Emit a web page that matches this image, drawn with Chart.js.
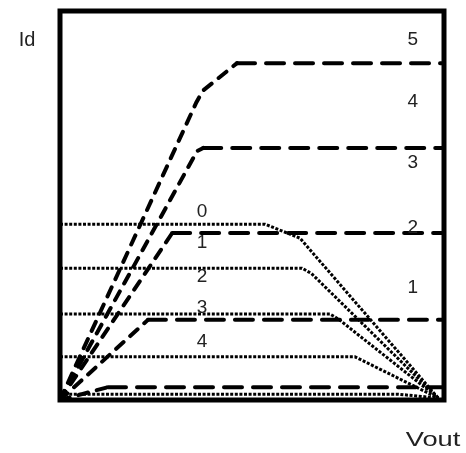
<!DOCTYPE html>
<html>
<head>
<meta charset="utf-8">
<script src="https://cdn.jsdelivr.net/npm/chart.js@4/dist/chart.umd.min.js"></script>
<style>
  html, body { margin: 0; padding: 0; background: #fff; }
  #wrap { width: 466px; height: 453px; }
</style>
</head>
<body>
<div id="wrap"><canvas id="c" width="466" height="453"></canvas></div>
<script>
// Output characteristics: dashed curves rise from the origin and saturate,
// dotted curves stay flat and then fall to the right-hand corner.
const n1X = [0, 1.25, 10];
const n1Y = [0, 0.33, 0.33];
const n2X = [0, 2.29, 10];
const n2Y = [0, 2.06, 2.06];
const n3X = [0, 2.92, 10];
const n3Y = [0, 4.29, 4.29];
const n4X = [0, 3.57, 3.73, 10];
const n4Y = [0, 6.40, 6.48, 6.48];
const n5X = [0, 3.55, 3.72, 4.61, 10];
const n5Y = [0, 7.65, 7.95, 8.66, 8.66];

const p0X = [0, 5.34, 6.25, 9.85];
const p0Y = [4.52, 4.52, 4.16, 0.05];
const p1X = [0, 6.30, 6.55, 9.85];
const p1Y = [3.39, 3.39, 3.25, 0.05];
const p2X = [0, 7.03, 7.25, 9.85];
const p2Y = [2.21, 2.21, 2.08, 0.05];
const p3X = [0, 7.68, 7.95, 9.85];
const p3Y = [1.11, 1.11, 0.98, 0.05];
const p4X = [0, 8.80, 9.85];
const p4Y = [0.15, 0.15, 0.05];

// curve labels and where they sit, in data units
const nLabels = ['5', '4', '3', '2', '1'];
const nLabelX = [9.19, 9.19, 9.19, 9.19, 9.19];
const nLabelY = [9.25, 7.66, 6.09, 4.42, 2.88];
const pLabels = ['0', '1', '2', '3', '4'];
const pLabelX = [3.70, 3.70, 3.70, 3.70, 3.70];
const pLabelY = [4.83, 4.04, 3.16, 2.37, 1.49];

const yTitle = 'Id';
const xTitle = 'Vout';

function pts(xs, ys) { return xs.map((x, i) => ({ x: x, y: ys[i] })); }

// flat runs get long dashes, rising runs short ones
const dashedStyle = {
  borderColor: '#000', borderWidth: 4, fill: false, borderCapStyle: 'round',
  borderDash: [17, 11],
  segment: {
    borderDash: s => (Math.abs(s.p0.parsed.y - s.p1.parsed.y) < 1e-6 ? [18, 11] : [10, 9])
  }
};
const dottedStyle = { borderColor: '#000', borderWidth: 3, borderDash: [3, 1.6], fill: false };

const datasets = [
  [n1X, n1Y], [n2X, n2Y], [n3X, n3Y], [n4X, n4Y], [n5X, n5Y]
].map(([xs, ys]) => Object.assign({ data: pts(xs, ys) }, dashedStyle)).concat(
  [[p0X, p0Y], [p1X, p1Y], [p2X, p2Y], [p3X, p3Y], [p4X, p4Y]]
    .map(([xs, ys]) => Object.assign({ data: pts(xs, ys) }, dottedStyle))
);

// frame around the plot plus the curve numbers and axis names
const annotate = {
  id: 'annotate',
  afterDatasetsDraw(chart) {
    const { ctx, chartArea: a, scales: { x, y } } = chart;
    ctx.save();
    ctx.strokeStyle = '#000';
    ctx.lineWidth = 5;
    ctx.strokeRect(a.left, a.top, a.right - a.left, a.bottom - a.top);

    ctx.fillStyle = '#222';
    ctx.textAlign = 'center';
    ctx.textBaseline = 'middle';
    ctx.font = '19px "Liberation Sans", Arial, sans-serif';
    nLabels.forEach((t, i) => ctx.fillText(t, x.getPixelForValue(nLabelX[i]), y.getPixelForValue(nLabelY[i])));
    pLabels.forEach((t, i) => ctx.fillText(t, x.getPixelForValue(pLabelX[i]), y.getPixelForValue(pLabelY[i])));

    ctx.font = '20px "Liberation Sans", Arial, sans-serif';
    ctx.fillText(yTitle, a.left - 33, a.top + 29);

    ctx.save();
    ctx.translate(a.right - 11, a.bottom + 40);
    ctx.scale(1.3, 1);
    ctx.font = '21px "Liberation Sans", Arial, sans-serif';
    ctx.fillText(xTitle, 0, 0);
    ctx.restore();
    ctx.restore();
  }
};

new Chart(document.getElementById('c'), {
  type: 'line',
  data: { datasets: datasets },
  options: {
    responsive: false,
    animation: false,
    devicePixelRatio: 1,
    layout: { padding: { left: 60, right: 22, top: 11, bottom: 53 } },
    elements: { point: { radius: 0 }, line: { tension: 0 } },
    plugins: { legend: { display: false }, tooltip: { enabled: false } },
    scales: {
      x: { type: 'linear', min: 0, max: 10, display: false },
      y: { type: 'linear', min: 0, max: 10, display: false }
    }
  },
  plugins: [annotate]
});
</script>
</body>
</html>
